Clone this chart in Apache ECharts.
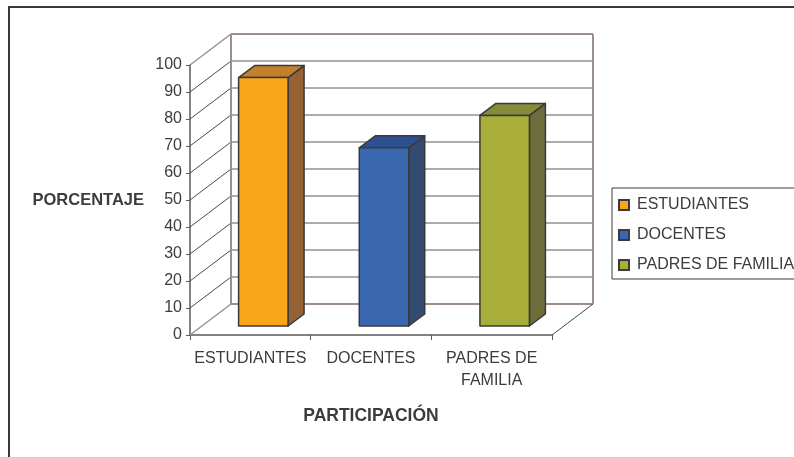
<!DOCTYPE html>
<html>
<head>
<meta charset="utf-8">
<style>
  html, body { margin: 0; padding: 0; background: #fff; }
  #chart { width: 794px; height: 457px; }
</style>
</head>
<body>
<div id="chart"></div>
<script src="https://cdn.jsdelivr.net/npm/echarts@6/dist/echarts.min.js"></script>
<script>
const categories = ['ESTUDIANTES', 'DOCENTES', 'PADRES DE FAMILIA']
const values = [92, 66, 78]
const yTicks = [0, 10, 20, 30, 40, 50, 60, 70, 80, 90, 100]

// front, top and side face of each bar
const faceColors = [
  ['#f9a61a', '#c47f2c', '#946234'],
  ['#3a68b0', '#2c5090', '#344b71'],
  ['#a8ae37', '#878a36', '#6d6c3b']
]

const FONT = '"Liberation Sans", Arial, sans-serif'
const TEXT = '#3c3c3e'
const WALL = '#9d8f8c'
const EDGE = '#3a3a3c'
const WALL_DX = 41
const WALL_DY = 31

function line(x1, y1, x2, y2, stroke, lineWidth) {
  return { type: 'line', shape: { x1, y1, x2, y2 }, style: { stroke, lineWidth } }
}

function renderWall(params, api) {
  const v = api.value(0)
  const cs = params.coordSys
  const y = api.coord([0, v])[1]
  const edge = v === 0 || v === 100
  const left = cs.x + WALL_DX
  const right = cs.x + cs.width + WALL_DX
  const children = [
    line(cs.x, y, left, y - WALL_DY, edge ? WALL : '#4a4a4c', edge ? 1.5 : 1),
    line(left, y - WALL_DY, right, y - WALL_DY, edge ? WALL : '#5a5a5c', edge ? 2 : 1)
  ]
  if (v === 100) {
    const floor = api.coord([0, 0])[1]
    children.push(line(left, y - WALL_DY, left, floor - WALL_DY, WALL, 2))
    children.push(line(right, y - WALL_DY, right, floor - WALL_DY, WALL, 2))
    children.push(line(cs.x + cs.width, floor, right, floor - WALL_DY, '#4a4a4c', 1))
  }
  return { type: 'group', children }
}

function renderBar(params, api) {
  const i = api.value(0)
  const [cx, top0] = api.coord([i, api.value(1)])
  const base0 = api.coord([i, 0])[1]
  const w = api.size([1, 0])[0] * 0.41
  const x0 = cx + 13 - w / 2
  const x1 = x0 + w
  const top = top0 - 9
  const base = base0 - 9
  const dx = 16
  const dy = 12
  const colors = faceColors[i]
  const edge = { stroke: EDGE, lineWidth: 1.5, lineJoin: 'round' }
  return {
    type: 'group',
    children: [
      { type: 'polygon', shape: { points: [[x1, top], [x1 + dx, top - dy], [x1 + dx, base - dy], [x1, base]] }, style: { fill: colors[2], ...edge } },
      { type: 'polygon', shape: { points: [[x0, top], [x0 + dx, top - dy], [x1 + dx, top - dy], [x1, top]] }, style: { fill: colors[1], ...edge } },
      { type: 'polygon', shape: { points: [[x0, top], [x1, top], [x1, base], [x0, base]] }, style: { fill: colors[0], ...edge } }
    ]
  }
}

const chart = echarts.init(document.getElementById('chart'), null, { renderer: 'canvas' })

chart.setOption({
  animation: false,
  backgroundColor: '#fff',
  textStyle: { fontFamily: FONT },
  graphic: [{
    type: 'polyline',
    shape: { points: [[9, 457], [9, 7], [794, 7]] },
    style: { stroke: EDGE, lineWidth: 2, fill: 'none' }
  }],
  grid: { left: 190, right: 242, top: 65, bottom: 122, containLabel: false, outerBoundsMode: 'none' },
  legend: {
    left: 612,
    top: 188,
    orient: 'vertical',
    data: categories,
    icon: 'rect',
    itemWidth: 10,
    itemHeight: 10,
    itemGap: 14,
    padding: [9, 6, 6, 6],
    borderColor: EDGE,
    borderWidth: 1,
    backgroundColor: '#fff',
    textStyle: { fontFamily: FONT, fontSize: 16, color: TEXT, padding: [0, 0, 0, 3] }
  },
  xAxis: {
    type: 'category',
    data: categories,
    name: 'PARTICIPACIÓN',
    nameLocation: 'middle',
    nameGap: 72,
    nameTextStyle: { fontFamily: FONT, fontSize: 17.5, fontWeight: 'bold', color: TEXT },
    axisLine: { lineStyle: { color: '#5a5a5c', width: 1.5 } },
    axisTick: { show: true, length: 5, lineStyle: { color: '#5a5a5c' } },
    axisLabel: {
      interval: 0,
      margin: 13,
      fontSize: 16,
      lineHeight: 22,
      color: TEXT,
      formatter: v => v.replace('DE ', 'DE\n')
    }
  },
  yAxis: {
    type: 'value',
    min: 0,
    max: 100,
    interval: 10,
    name: 'PORCENTAJE',
    nameLocation: 'middle',
    nameRotate: 0,
    nameGap: 46,
    nameTextStyle: { fontFamily: FONT, fontSize: 16.5, fontWeight: 'bold', color: TEXT },
    splitLine: { show: false },
    axisLine: { show: true, lineStyle: { color: '#5a5a5c', width: 1.5 } },
    axisTick: { show: true, length: 4, lineStyle: { color: '#5a5a5c' } },
    axisLabel: { margin: 8, fontSize: 16, color: TEXT }
  },
  series: [
    {
      type: 'custom',
      name: 'walls',
      silent: true,
      z: 1,
      renderItem: renderWall,
      data: yTicks.map(v => [v]),
      encode: { y: 0 }
    },
    ...categories.map((name, i) => ({
      type: 'custom',
      name,
      z: 2,
      renderItem: renderBar,
      itemStyle: { color: faceColors[i][0], borderColor: EDGE, borderWidth: 1.5 },
      data: [[i, values[i]]],
      encode: { x: 0, y: 1 }
    }))
  ]
})
</script>
</body>
</html>
